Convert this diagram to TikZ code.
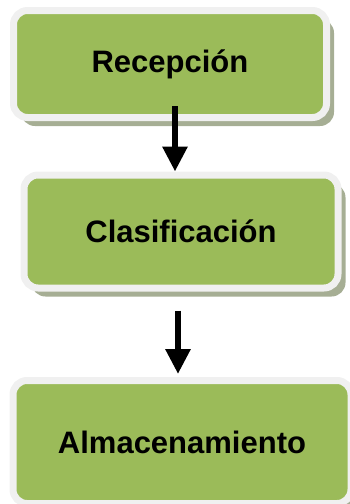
\documentclass[tikz,border=0pt]{standalone}
\usepackage{fontspec}
\setmainfont{Liberation Sans}
\usetikzlibrary{arrows.meta,positioning,shadows}
\definecolor{olive}{RGB}{155,187,89}
\definecolor{rim}{RGB}{240,240,240}
\definecolor{shade}{RGB}{166,174,148}

\begin{document}
\begin{tikzpicture}[x=1pt,y=-1pt,on grid,
    stage/.style={rectangle,rounded corners=14pt,fill=olive,draw=rim,line width=7pt,
        drop shadow={shadow xshift=7.5pt,shadow yshift=-8.5pt,fill=shade,opacity=1},
        font=\bfseries\fontsize{31}{36}\selectfont,inner sep=0pt},
    flow/.style={line width=6pt,-{Triangle[width=24pt,length=25pt]}}]
    \useasboundingbox (0,0) rectangle (349,504);
    \node[stage,minimum width=313pt,minimum height=107pt] (rec) at (170,64) {Recepción};
    \node[stage,minimum width=314pt,minimum height=113pt] (cla) [below=167.5pt of rec,xshift=11pt] {Clasificación};
    \node[stage,minimum width=338pt,minimum height=123pt] (alm) [below=210.5pt of cla,xshift=1pt] {Almacenamiento};
    \draw[flow] ([xshift=5pt,yshift=15pt]rec.south) -- ([xshift=-6pt]cla.north);
    \draw[flow] ([xshift=-3pt,yshift=-19pt]cla.south) -- ([xshift=-4pt,yshift=3pt]alm.north);
\end{tikzpicture}
\end{document}
